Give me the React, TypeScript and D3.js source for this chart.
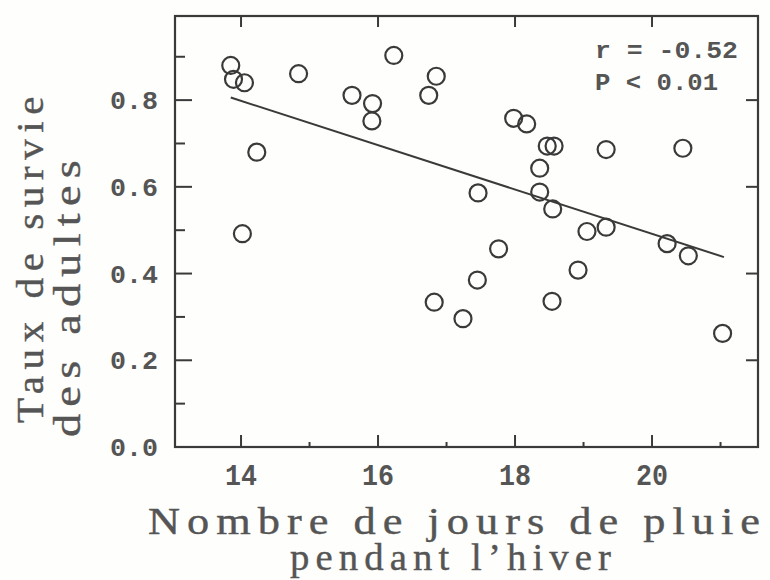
import React from "react";
import * as d3 from "d3";

const rainDays = [13.85, 13.89, 14.05, 14.84, 16.23, 15.62, 15.92, 15.91, 16.85, 16.74, 14.23, 14.02, 17.46, 17.98, 18.17, 18.47, 18.57, 19.33, 20.45, 18.36, 18.36, 18.55, 19.05, 19.33, 20.22, 20.53, 17.76, 17.45, 17.24, 18.92, 18.54, 21.03, 16.82];
const survival = [0.88, 0.848, 0.84, 0.861, 0.903, 0.811, 0.792, 0.752, 0.855, 0.811, 0.68, 0.492, 0.586, 0.758, 0.745, 0.694, 0.694, 0.686, 0.689, 0.643, 0.588, 0.549, 0.497, 0.507, 0.469, 0.441, 0.457, 0.385, 0.296, 0.408, 0.336, 0.262, 0.334];
const fitX = [13.85, 21.05];
const fitY = [0.806, 0.438];
const xMajorTicks = [14, 16, 18, 20];
const xMinorTicks = [15, 17, 19, 21];
const yMajorTicks = [0.2, 0.4, 0.6, 0.8];
const yMinorTicks = [0.1, 0.3, 0.5, 0.7, 0.9];
const yTickLabels = ["0.0", "0.2", "0.4", "0.6", "0.8"];
const yLabelValues = [0, 0.2, 0.4, 0.6, 0.8];
const statLines = ["r = -0.52", "P < 0.01"];
const xTitle = ["Nombre de jours de pluie", "pendant l\u2019hiver"];
const yTitle = ["Taux de survie", "des adultes"];

const W = 770, H = 580;
const L = 175, R = 758, T = 16, B = 447;

export default function App() {
  const x = d3.scaleLinear().domain([13.036, 21.547]).range([L, R]);
  const y = d3.scaleLinear().domain([0, 0.994]).range([B, T]);
  const ink = "#3a3a3a";
  const textInk = "#555555";
  const mono = "'Liberation Mono', 'DejaVu Sans Mono', monospace";
  const serif = "'Liberation Serif', serif";
  const line = d3.line<number>().x((d, i) => x(fitX[i])).y((d, i) => y(fitY[i]));
  const titleProps = { fontFamily: serif, fontSize: 38, fill: textInk, stroke: textInk, strokeWidth: 0.4, letterSpacing: 6, lengthAdjust: "spacingAndGlyphs" } as any;

  return (
    <svg width={W} height={H} style={{ position: "absolute", left: 0, top: 0, background: "#fff" }}>
      <rect x={0} y={0} width={W} height={H} fill="#fefefc" />
      {/* frame */}
      <rect x={L} y={T} width={R - L} height={B - T} fill="none" stroke={ink} strokeWidth={2.2} />
      {/* left ticks */}
      {yMajorTicks.map((v) => (
        <line key={"ylm" + v} x1={L} x2={L + 17} y1={y(v)} y2={y(v)} stroke={ink} strokeWidth={2} />
      ))}
      {yMinorTicks.map((v) => (
        <line key={"yln" + v} x1={L} x2={L + 10} y1={y(v)} y2={y(v)} stroke={ink} strokeWidth={2} />
      ))}
      {/* right ticks */}
      {yMajorTicks.map((v) => (
        <line key={"yrm" + v} x1={R} x2={R - 12} y1={y(v)} y2={y(v)} stroke={ink} strokeWidth={2} />
      ))}
      {/* bottom ticks */}
      {xMajorTicks.map((v) => (
        <line key={"xbm" + v} x1={x(v)} x2={x(v)} y1={B} y2={B - 12} stroke={ink} strokeWidth={2} />
      ))}
      {xMinorTicks.map((v) => (
        <line key={"xbn" + v} x1={x(v)} x2={x(v)} y1={B} y2={B - 5} stroke={ink} strokeWidth={2} />
      ))}
      {/* top ticks */}
      {xMajorTicks.map((v) => (
        <line key={"xtm" + v} x1={x(v)} x2={x(v)} y1={T} y2={T + 11} stroke={ink} strokeWidth={2} />
      ))}
      {/* y tick labels */}
      {yLabelValues.map((v, i) => (
        <text key={"yl" + i} x={110} y={y(v)} dy="0.36em" fontFamily={mono} fontWeight="bold" fontSize={25} fill={textInk} textLength={48} lengthAdjust="spacingAndGlyphs">
          {yTickLabels[i]}
        </text>
      ))}
      {/* x tick labels */}
      {xMajorTicks.map((v) => (
        <text key={"xl" + v} x={x(v) - 16} y={485} fontFamily={mono} fontWeight="bold" fontSize={30} fill={textInk} textLength={32} lengthAdjust="spacingAndGlyphs">
          {String(v)}
        </text>
      ))}
      {/* regression line */}
      <path d={line(fitX) || ""} fill="none" stroke={ink} strokeWidth={2} />
      {/* points */}
      {rainDays.map((d, i) => (
        <circle key={"p" + i} cx={x(d)} cy={y(survival[i])} r={8.5} fill="none" stroke={ink} strokeWidth={2.2} />
      ))}
      {/* stats */}
      <text x={595} y={58} fontFamily={mono} fontWeight="bold" fontSize={24} fill={textInk} textLength={143} lengthAdjust="spacingAndGlyphs">
        {statLines[0]}
      </text>
      <text x={595} y={90} fontFamily={mono} fontWeight="bold" fontSize={24} fill={textInk} textLength={123} lengthAdjust="spacingAndGlyphs">
        {statLines[1]}
      </text>
      {/* x title */}
      <text x={148} y={534} textLength={619} {...titleProps}>
        {xTitle[0]}
      </text>
      <text x={290} y={570} textLength={327} {...titleProps}>
        {xTitle[1]}
      </text>
      {/* y title */}
      <text transform="translate(43,423) rotate(-90)" textLength={333} {...titleProps}>
        {yTitle[0]}
      </text>
      <text transform="translate(80,437) rotate(-90)" textLength={284} {...titleProps}>
        {yTitle[1]}
      </text>
    </svg>
  );
}
